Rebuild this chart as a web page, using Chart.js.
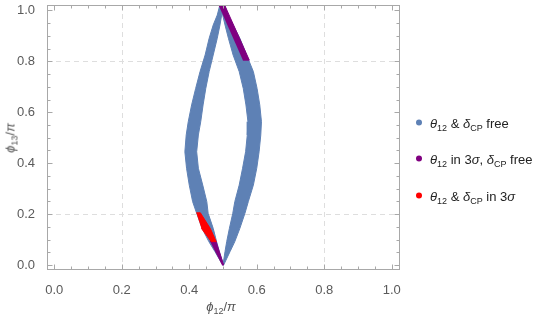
<!DOCTYPE html>
<html>
<head>
<meta charset="utf-8">
<script src="https://cdn.jsdelivr.net/npm/chart.js@4.4.1/dist/chart.umd.min.js"></script>
<style>
  body { margin: 0; background: #fff; }
  #wrap { position: relative; width: 556px; height: 318px; font-family: "Liberation Sans", Arial, sans-serif; }
  canvas { position: absolute; left: 0; top: 0; }
  .ttl { position: absolute; color: #555; font-size: 13px; white-space: nowrap; line-height: 1; }
  sub { font-size: 9px; font-style: normal; vertical-align: -3px; line-height: 0; }
  .leg { position: absolute; left: 416px; font-size: 13px; color: #222; white-space: nowrap; line-height: 1; transform: translateY(-50%); }
  .dot { display: inline-block; width: 6px; height: 6px; border-radius: 50%; margin-right: 8px; vertical-align: 2px; }
</style>
</head>
<body>
<div id="wrap">
  <canvas id="c" width="556" height="318"></canvas>
  <div class="ttl" style="left:221px; top:306px; transform:translate(-50%,-50%)"><i>ϕ</i><sub>12</sub>/<i>π</i></div>
  <div class="ttl" style="left:10px; top:138px; transform:translate(-50%,-50%) rotate(-90deg)"><i>ϕ</i><sub>13</sub>/<i>π</i></div>
</div>
<script>
// series names (legend) and colours
const seriesLabels = [
  '<i>θ</i><sub>12</sub> &amp; <i>δ</i><sub>CP</sub> free',
  '<i>θ</i><sub>12</sub> in 3<i>σ</i>, <i>δ</i><sub>CP</sub> free',
  '<i>θ</i><sub>12</sub> &amp; <i>δ</i><sub>CP</sub> in 3<i>σ</i>'
];
const seriesColors = ['#5e81b5', '#800080', '#ff0000'];

// outlines of the point clouds, [phi12/pi, phi13/pi]
const blueLeftArc = [
  [0.490, 1.018], [0.483, 0.982], [0.471, 0.943], [0.459, 0.891], [0.447, 0.825],
  [0.432, 0.760], [0.419, 0.694], [0.407, 0.629], [0.397, 0.563], [0.391, 0.511],
  [0.387, 0.445], [0.392, 0.380], [0.400, 0.314], [0.410, 0.249], [0.422, 0.203],
  [0.438, 0.144], [0.458, 0.092], [0.476, 0.053], [0.499, 0.000],
  [0.502, 0.000], [0.489, 0.053], [0.481, 0.092], [0.471, 0.144], [0.456, 0.203],
  [0.452, 0.249], [0.440, 0.314], [0.427, 0.380], [0.422, 0.445], [0.427, 0.511],
  [0.434, 0.563], [0.441, 0.629], [0.449, 0.694], [0.459, 0.760], [0.471, 0.825],
  [0.483, 0.891], [0.491, 0.943], [0.496, 0.982], [0.504, 1.018]
];
const blueRightArc = [
  [0.494, 1.018], [0.499, 0.982], [0.506, 0.943], [0.516, 0.891], [0.530, 0.825],
  [0.548, 0.760], [0.560, 0.694], [0.568, 0.629], [0.574, 0.563], [0.572, 0.511],
  [0.567, 0.445], [0.558, 0.380], [0.548, 0.314], [0.535, 0.249], [0.529, 0.203],
  [0.519, 0.144], [0.511, 0.092], [0.506, 0.053], [0.500, 0.000],
  [0.502, 0.000], [0.521, 0.053], [0.535, 0.092], [0.550, 0.144], [0.565, 0.203],
  [0.575, 0.249], [0.590, 0.314], [0.600, 0.380], [0.607, 0.445], [0.612, 0.511],
  [0.614, 0.563], [0.609, 0.629], [0.601, 0.694], [0.590, 0.760], [0.570, 0.825],
  [0.550, 0.891], [0.530, 0.943], [0.515, 0.982], [0.506, 1.018]
];
const purpleTop = [[0.488, 1.018], [0.506, 1.018], [0.578, 0.805], [0.559, 0.805]];
const purpleBottom = [[0.461, 0.094], [0.479, 0.094], [0.502, 0.000], [0.497, 0.000]];
const redBand = [[0.421, 0.205], [0.433, 0.205], [0.462, 0.144], [0.480, 0.092],
  [0.465, 0.092], [0.436, 0.144]];

// axis ticks
const tickValues = [0, 0.05, 0.1, 0.15, 0.2, 0.25, 0.3, 0.35, 0.4, 0.45, 0.5,
  0.55, 0.6, 0.65, 0.7, 0.75, 0.8, 0.85, 0.9, 0.95, 1];
const majorTicks = [0, 0.2, 0.4, 0.6, 0.8, 1];
const gridValues = [0.2, 0.8];

const near = (a, list) => list.some(v => Math.abs(v - a) < 1e-6);
const toXY = arr => arr.map(p => ({ x: p[0], y: p[1] }));

function shape(data, color, order) {
  return {
    data: toXY(data),
    showLine: true,
    fill: 'shape',
    backgroundColor: color,
    borderColor: color,
    borderWidth: 1,
    pointRadius: 0,
    tension: 0,
    order: order
  };
}

const framePlugin = {
  id: 'frame',
  beforeDatasetsDraw(chart) {
    const { ctx, chartArea: a, scales: { x, y } } = chart;
    ctx.save();
    ctx.strokeStyle = '#dedede';
    ctx.lineWidth = 1;
    ctx.setLineDash([5, 4]);
    ctx.beginPath();
    gridValues.forEach(v => {
      const px = Math.round(x.getPixelForValue(v)) + 0.5;
      ctx.moveTo(px, a.top); ctx.lineTo(px, a.bottom);
      const py = Math.round(y.getPixelForValue(v)) + 0.5;
      ctx.moveTo(a.left, py); ctx.lineTo(a.right, py);
    });
    ctx.stroke();
    ctx.restore();
  },
  afterDatasetsDraw(chart) {
    const { ctx, chartArea: a, scales: { x, y } } = chart;
    ctx.save();
    ctx.strokeStyle = '#a8a8a8';
    ctx.lineWidth = 1;
    ctx.strokeRect(a.left + 0.5, a.top + 0.5, a.right - a.left - 1, a.bottom - a.top - 1);
    ctx.beginPath();
    tickValues.forEach(v => {
      const len = near(v, majorTicks) ? 5 : 3;
      const px = Math.round(x.getPixelForValue(v)) + 0.5;
      ctx.moveTo(px, a.bottom - 0.5); ctx.lineTo(px, a.bottom - 0.5 - len);
      ctx.moveTo(px, a.top + 0.5); ctx.lineTo(px, a.top + 0.5 + len);
      const py = Math.round(y.getPixelForValue(v)) + 0.5;
      ctx.moveTo(a.left + 0.5, py); ctx.lineTo(a.left + 0.5 + len, py);
      ctx.moveTo(a.right - 0.5, py); ctx.lineTo(a.right - 0.5 - len, py);
    });
    ctx.stroke();
    ctx.restore();
  }
};

function axis(min, max, fit) {
  return {
    type: 'linear',
    min: min,
    max: max,
    afterBuildTicks: s => { s.ticks = majorTicks.map(v => ({ value: v })); },
    afterFit: s => {
      fit(s);
      s.paddingTop = 0; s.paddingBottom = 0; s.paddingLeft = 0; s.paddingRight = 0;
    },
    border: { display: false },
    grid: { display: false },
    ticks: {
      autoSkip: false,
      maxRotation: 0,
      color: '#5a5a5a',
      font: { family: '"Liberation Sans", Arial, sans-serif', size: 13 },
      callback: v => v.toFixed(1)
    }
  };
}

const xAxis = axis(-0.0216, 1.0246, s => { s.height = 48; });
xAxis.ticks.padding = 5;
const yAxis = axis(-0.0196, 1.0216, s => { s.width = 47; });
yAxis.ticks.padding = 4;

new Chart(document.getElementById('c'), {
  type: 'scatter',
  data: {
    datasets: [
      shape(blueLeftArc, seriesColors[0], 5),
      shape(blueRightArc, seriesColors[0], 4),
      shape(purpleTop, seriesColors[1], 3),
      shape(purpleBottom, seriesColors[1], 2),
      shape(redBand, seriesColors[2], 1)
    ]
  },
  options: {
    responsive: false,
    animation: false,
    devicePixelRatio: 1,
    layout: { padding: { left: 0, right: 156, top: 5, bottom: 0 } },
    plugins: { legend: { display: false }, tooltip: { enabled: false } },
    scales: { x: xAxis, y: yAxis }
  },
  plugins: [framePlugin]
});

// legend
const wrap = document.getElementById('wrap');
const legendY = [123, 159, 196];
seriesLabels.forEach((lab, i) => {
  const d = document.createElement('div');
  d.className = 'leg';
  d.style.top = legendY[i] + 'px';
  d.innerHTML = '<span class="dot" style="background:' + seriesColors[i] + '"></span>' + lab;
  wrap.appendChild(d);
});
</script>
</body>
</html>
